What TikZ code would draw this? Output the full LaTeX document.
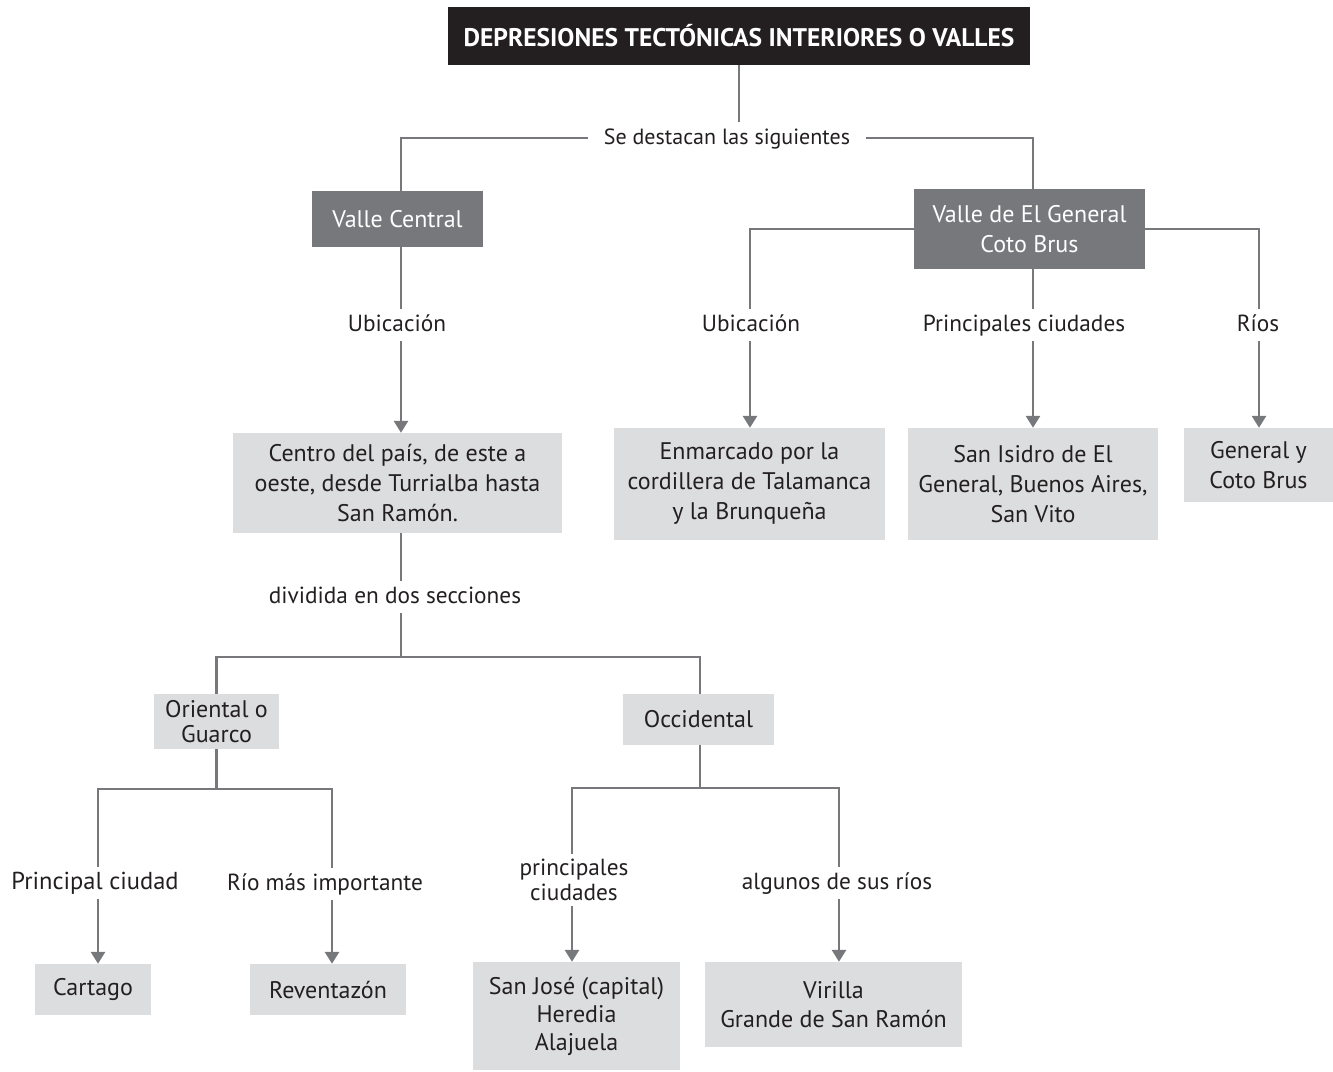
\documentclass[tikz,border=0pt]{standalone}
\usepackage{fontspec}
\setmainfont{PT Sans}
\usetikzlibrary{arrows.meta}
\definecolor{ink}{HTML}{231F20}
\definecolor{linegray}{HTML}{77787B}
\definecolor{darkbox}{HTML}{77787B}
\definecolor{lightbox}{HTML}{DCDDDE}
\tikzset{
  conn/.style={draw=linegray, line width=2.8pt},
  arr/.style={conn, -{Triangle[width=14pt,length=12pt]}},
  titlebox/.style={fill=ink, text=white, inner sep=0pt, font=\bfseries\fontsize{25.5}{30}\selectfont},
  darkb/.style={fill=darkbox, text=white, inner sep=0pt, align=center, font=\fontsize{24}{30}\selectfont},
  lightb/.style={fill=lightbox, text=ink, inner sep=0pt, align=center, font=\fontsize{24}{30}\selectfont},
  lab/.style={text=ink, inner xsep=2pt, inner ysep=5pt, align=center, font=\fontsize{23.3}{25}\selectfont},
  onelab/.style={lab, text height=17pt, text depth=4pt},
}
\begin{document}
\begin{tikzpicture}[x=1pt,y=-1pt]
\useasboundingbox (0,0) rectangle (1333,1071);
% nodes
\node[titlebox, minimum width=582pt, minimum height=58pt] (title) at (739,36) {DEPRESIONES TECTÓNICAS INTERIORES O VALLES};
\node[onelab, inner xsep=16pt, font=\fontsize{22}{25}\selectfont] (sd) at (727,138) {Se destacan las siguientes};
\node[darkb, minimum width=171pt, minimum height=56pt] (vc) at (397.5,219) {Valle Central};
\node[darkb, minimum width=231pt, minimum height=80pt] (vg) at (1029.5,229) {Valle de El General\\Coto Brus};
\node[onelab] (ub1) at (397,325) {Ubicación};
\node[lightb, minimum width=329pt, minimum height=100pt] (centro) at (397.5,483) {Centro del país, de este a\\oeste, desde Turrialba hasta\\San Ramón.};
\node[onelab] (div) at (395,597) {dividida en dos secciones};
\node[lightb, minimum width=125pt, minimum height=55pt, font=\fontsize{24}{25}\selectfont] (ori) at (216.5,721.5) {Oriental o\\Guarco};
\node[lightb, minimum width=151pt, minimum height=51pt] (occ) at (698.5,719.5) {Occidental};
\node[onelab, font=\fontsize{24.5}{25}\selectfont] (pc) at (95,883) {Principal ciudad};
\node[onelab] (rmi) at (325,884) {Río más importante};
\node[lightb, minimum width=116pt, minimum height=51pt] (cart) at (93,989.5) {Cartago};
\node[lightb, minimum width=156pt, minimum height=51pt] (rev) at (328,989.5) {Reventazón};
\node[lab] (pcs) at (574,880) {principales\\ciudades};
\node[onelab] (asr) at (837,883) {algunos de sus ríos};
\node[lightb, minimum width=207pt, minimum height=108pt, font=\fontsize{24}{28}\selectfont] (sj) at (576.5,1016) {San José (capital)\\Heredia\\Alajuela};
\node[lightb, minimum width=257pt, minimum height=85pt, font=\fontsize{24}{29}\selectfont] (vir) at (833.5,1004.5) {Virilla\\Grande de San Ramón};
\node[onelab] (ub2) at (751,325) {Ubicación};
\node[onelab] (pci) at (1024,325) {Principales ciudades};
\node[onelab] (rios) at (1258,325) {Ríos};
\node[lightb, minimum width=271pt, minimum height=112pt] (enm) at (749.5,484) {Enmarcado por la\\cordillera de Talamanca\\y la Brunqueña};
\node[lightb, minimum width=250pt, minimum height=112pt] (sis) at (1033,484) {San Isidro de El\\General, Buenos Aires,\\San Vito};
\node[lightb, minimum width=149pt, minimum height=74pt] (gen) at (1258.5,465) {General y\\Coto Brus};
% junctions
\coordinate (j1) at (216.5,789);
\coordinate (j2) at (700,788);
\coordinate (j0) at (401,657);
% connectors
\draw[conn] (title.south) -- (title.south |- sd.north);
\draw[conn] (sd.west) -| ([xshift=3.5pt]vc.north);
\draw[conn] (sd.east) -| ([xshift=3.5pt]vg.north);
\draw[conn] ([xshift=3.5pt]vc.south) -- ([xshift=3.5pt]vc.south |- ub1.north);
\draw[arr] ([xshift=3.5pt]vc.south |- ub1.south) -- ([xshift=3.5pt]vc.south |- centro.north);
\draw[conn] ([xshift=3.5pt]centro.south) -- ([xshift=3.5pt]centro.south |- div.north);
\draw[conn] ([xshift=3.5pt]centro.south |- div.south) -- (j0);
\draw[conn] (ori.north) |- (j0) -| ([xshift=1.5pt]occ.north);
\draw[conn] (ori.south) -- (j1);
\draw[conn] ([xshift=3pt]pc.north) |- (j1) -| ([xshift=7pt]rmi.north);
\draw[arr] ([xshift=3pt]pc.south) -- ([xshift=3pt]pc.south |- cart.north);
\draw[arr] ([xshift=7pt]rmi.south) -- ([xshift=7pt]rmi.south |- rev.north);
\draw[conn] ([xshift=1.5pt]occ.south) -- (j2);
\draw[conn] ([xshift=-2pt]pcs.north) |- (j2) -| ([xshift=2pt]asr.north);
\draw[arr] ([xshift=-2pt]pcs.south) -- ([xshift=-2pt]pcs.south |- sj.north);
\draw[arr] ([xshift=2pt]asr.south) -- ([xshift=2pt]asr.south |- vir.north);
\draw[conn] (vg.west) -| ([xshift=-1pt]ub2.north);
\draw[arr] ([xshift=-1pt]ub2.south) -- ([xshift=-1pt]ub2.south |- enm.north);
\draw[conn] ([xshift=3.5pt]vg.south) -- ([xshift=3.5pt]vg.south |- pci.north);
\draw[arr] ([xshift=3.5pt]vg.south |- pci.south) -- ([xshift=3.5pt]vg.south |- sis.north);
\draw[conn] (vg.east) -| ([xshift=1pt]rios.north);
\draw[arr] ([xshift=1pt]rios.south) -- ([xshift=1pt]rios.south |- gen.north);
\end{tikzpicture}
\end{document}
